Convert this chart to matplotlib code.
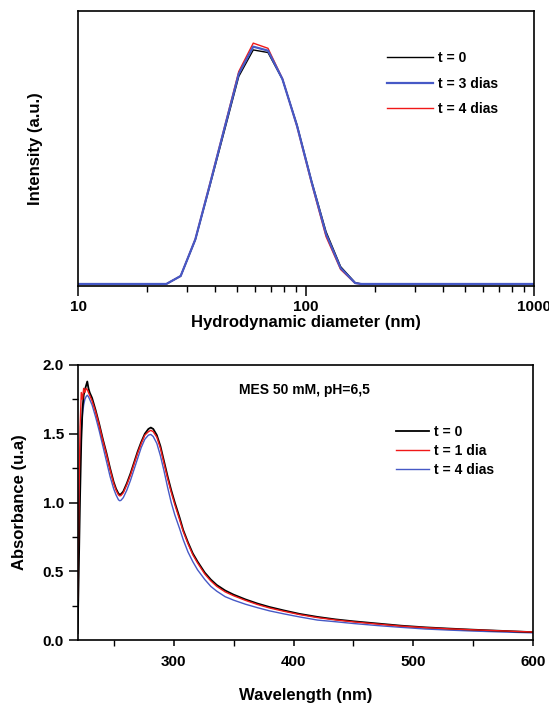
import matplotlib
matplotlib.use("Agg")
import matplotlib.pyplot as plt
from matplotlib.ticker import MultipleLocator, LogLocator, NullFormatter, FixedLocator

plt.rcParams['font.family'] = ['Liberation Sans', 'DejaVu Sans']
plt.rcParams['font.weight'] = 'bold'

# ---------------- Top panel data (DLS) ----------------
diameter_nm = [10, 24.4, 28.2, 32.7, 37.8, 43.8, 50.7, 58.7, 68.1, 78.8, 91.3, 105.7, 122.4, 141.8, 164.2, 175.0, 1000]
int_t0 = [0, 0, 3.4, 18.8, 41.5, 65.0, 88.4, 99.7, 98.6, 87.2, 67.8, 44.0, 22.3, 7.4, 0.6, 0, 0]
int_t3 = [0, 0, 3.4, 19.0, 42.0, 66.0, 89.5, 101.1, 99.4, 87.3, 67.4, 43.6, 21.3, 6.8, 0.4, 0, 0]
int_t4 = [0, 0, 3.4, 19.2, 42.5, 66.5, 90.5, 102.6, 100.4, 87.5, 67.0, 43.0, 20.2, 6.2, 0.3, 0, 0]
top_labels = ['t = 0', 't = 3 dias', 't = 4 dias']

# ---------------- Bottom panel data (UV-Vis) ----------------
wavelength = [220, 221, 222, 223, 224, 225, 226, 227, 228, 229, 230, 232, 235, 238, 241, 244, 247, 250,
              252, 254, 255, 256, 258, 261, 264, 267, 270, 273, 276, 279, 281, 283, 286, 289, 292, 295,
              298, 301, 305, 308, 312, 316, 320, 326, 331, 336, 343, 350, 360, 370, 380, 392, 405, 420,
              435, 450, 470, 490, 510, 530, 550, 575, 600]
abs_t0 = [0.05, 0.55, 1.05, 1.45, 1.68, 1.78, 1.82, 1.85, 1.88, 1.83, 1.80, 1.76, 1.67, 1.57, 1.46, 1.36, 1.25, 1.15,
          1.10, 1.065, 1.058, 1.06, 1.08, 1.14, 1.21, 1.29, 1.37, 1.44, 1.50, 1.535, 1.545, 1.535, 1.49, 1.41, 1.30, 1.19,
          1.09, 1.00, 0.89, 0.80, 0.71, 0.63, 0.57, 0.49, 0.44, 0.40, 0.36, 0.33, 0.295, 0.265, 0.24, 0.215, 0.19, 0.168,
          0.15, 0.136, 0.12, 0.104, 0.092, 0.083, 0.075, 0.066, 0.057]
abs_t1 = [0.30, 1.00, 1.55, 1.80, 1.75, 1.83, 1.80, 1.83, 1.82, 1.80, 1.78, 1.74, 1.66, 1.56, 1.45, 1.35, 1.24, 1.14,
          1.09, 1.055, 1.048, 1.05, 1.07, 1.13, 1.20, 1.28, 1.36, 1.43, 1.49, 1.515, 1.525, 1.515, 1.475, 1.395, 1.285, 1.175,
          1.075, 0.985, 0.875, 0.79, 0.70, 0.62, 0.56, 0.48, 0.43, 0.39, 0.35, 0.322, 0.288, 0.258, 0.233, 0.209, 0.185, 0.163,
          0.146, 0.132, 0.116, 0.101, 0.090, 0.081, 0.074, 0.066, 0.058]
abs_t4 = [0.30, 0.90, 1.30, 1.52, 1.64, 1.71, 1.75, 1.77, 1.78, 1.77, 1.75, 1.71, 1.62, 1.52, 1.41, 1.30, 1.19, 1.10,
          1.055, 1.02, 1.013, 1.015, 1.035, 1.09, 1.16, 1.24, 1.32, 1.40, 1.46, 1.49, 1.495, 1.48, 1.43, 1.34, 1.23, 1.11,
          1.00, 0.91, 0.81, 0.73, 0.64, 0.57, 0.51, 0.44, 0.39, 0.355, 0.315, 0.29, 0.26, 0.235, 0.212, 0.19, 0.168, 0.145,
          0.133, 0.12, 0.105, 0.092, 0.080, 0.072, 0.065, 0.058, 0.052]
bottom_labels = ['t = 0', 't = 1 dia', 't = 4 dias']
annotation = 'MES 50 mM, pH=6,5'

BLACK = '#000000'
RED = '#f01818'
BLUE = '#4659c6'

fig = plt.figure(figsize=(5.49, 7.03), dpi=100)

# ---------------- Top axes ----------------
ax1 = fig.add_axes([0.1421, 0.5932, 0.8306, 0.3912])
ax1.plot(diameter_nm, int_t0, color=BLACK, lw=1.0, label=top_labels[0])
ax1.plot(diameter_nm, int_t4, color=RED, lw=1.0, label=top_labels[2])
ax1.plot(diameter_nm, int_t3, color=BLUE, lw=1.6, label=top_labels[1])
ax1.set_xscale('log')
ax1.set_xlim(10, 1000)
ax1.set_ylim(-0.85, 116.3)
ax1.set_yticks([])
ax1.xaxis.set_major_locator(FixedLocator([10, 100, 1000]))
ax1.set_xticklabels(['10', '100', '1000'])
ax1.xaxis.set_minor_locator(LogLocator(base=10, subs=range(2, 10)))
ax1.xaxis.set_minor_formatter(NullFormatter())
ax1.tick_params(axis='x', which='major', direction='out', length=7, width=1.1, pad=3, labelsize=11)
ax1.tick_params(axis='x', which='minor', direction='out', length=4.5, width=1.0)
for sp in ax1.spines.values():
    sp.set_linewidth(1.2)
ax1.set_xlabel('Hydrodynamic diameter (nm)', fontsize=12, fontweight='bold')
ax1.xaxis.set_label_coords(0.5, -0.1335)
ax1.xaxis.label.set_verticalalignment('center')
ax1.set_ylabel('Intensity (a.u.)', fontsize=12, fontweight='bold')
ax1.yaxis.set_label_coords(-0.0943, 0.5)
ax1.yaxis.label.set_verticalalignment('center')
h, l = ax1.get_legend_handles_labels()
order = [0, 2, 1]
ax1.legend([h[i] for i in order], [l[i] for i in order], loc='upper left',
           bbox_to_anchor=(0.6776, 0.8545), frameon=False, borderpad=0, borderaxespad=0,
           handlelength=3.3, handletextpad=0.36, labelspacing=0.84,
           prop={'size': 10, 'weight': 'bold'})

# ---------------- Bottom axes ----------------
ax2 = fig.add_axes([0.1415, 0.0896, 0.8299, 0.3912])
ax2.plot(wavelength, abs_t4, color=BLUE, lw=1.0, label=bottom_labels[2])
ax2.plot(wavelength, abs_t0, color=BLACK, lw=1.3, label=bottom_labels[0])
ax2.plot(wavelength, abs_t1, color=RED, lw=1.0, label=bottom_labels[1])
ax2.set_xlim(220, 600)
ax2.set_ylim(0, 2.0)
ax2.xaxis.set_major_locator(FixedLocator([300, 400, 500, 600]))
ax2.xaxis.set_minor_locator(FixedLocator([250, 350, 450, 550]))
ax2.yaxis.set_major_locator(MultipleLocator(0.5))
ax2.yaxis.set_minor_locator(MultipleLocator(0.25))
ax2.yaxis.set_major_formatter(plt.FuncFormatter(lambda v, p: f'{v:.1f}'))
ax2.tick_params(axis='x', which='major', direction='out', length=4.5, width=1.1, pad=6, labelsize=11)
ax2.tick_params(axis='x', which='minor', direction='out', length=4.5, width=1.0)
ax2.tick_params(axis='y', which='major', direction='out', length=6.5, width=1.1, pad=3.5, labelsize=11)
ax2.tick_params(axis='y', which='minor', direction='out', length=4, width=1.0)
for sp in ax2.spines.values():
    sp.set_linewidth(1.2)
ax2.set_xlabel('Wavelength (nm)', fontsize=12, fontweight='bold')
ax2.xaxis.set_label_coords(0.5, -0.2)
ax2.xaxis.label.set_verticalalignment('center')
ax2.set_ylabel('Absorbance (u.a)', fontsize=12, fontweight='bold')
ax2.yaxis.set_label_coords(-0.128, 0.5)
ax2.yaxis.label.set_verticalalignment('center')
ax2.text(0.498, 0.909, annotation, transform=ax2.transAxes, ha='center', va='center',
         fontsize=10, fontweight='bold')
h, l = ax2.get_legend_handles_labels()
order = [1, 2, 0]
ax2.legend([h[i] for i in order], [l[i] for i in order], loc='upper left',
           bbox_to_anchor=(0.698, 0.782), frameon=False, borderpad=0, borderaxespad=0,
           handlelength=2.4, handletextpad=0.33, labelspacing=0.35,
           prop={'size': 10, 'weight': 'bold'})

for lab in ax1.get_xticklabels() + ax2.get_xticklabels() + ax2.get_yticklabels():
    lab.set_fontweight('bold')

fig.savefig('out.png', dpi=100)
